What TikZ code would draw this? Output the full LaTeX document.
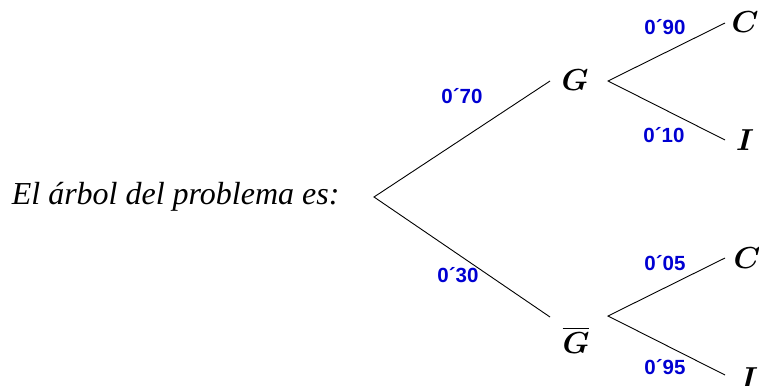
\documentclass[tikz,border=0pt]{standalone}
\usepackage{amsmath,amssymb,bm}
\usepackage{fontspec}
\setmainfont{Liberation Serif}
\setsansfont{Liberation Sans}
\usepackage{xcolor}
\usetikzlibrary{positioning}
\definecolor{probblue}{RGB}{0,0,210}
\tikzset{
  prob/.style={font=\sffamily\bfseries\fontsize{20.5}{22}\selectfont, text=probblue, inner sep=1pt},
  event/.style={font=\Huge, scale=1.22, inner sep=1pt},
  branch/.style={draw=black, line width=0.9pt},
}
\begin{document}
\begin{tikzpicture}[x=1pt,y=-1pt]
  \useasboundingbox (0,0) rectangle (759,385);
  % caption
  \node[font=\itshape\fontsize{32}{34}\selectfont, anchor=east] (cap) at (343,197) {El árbol del problema es:};
  % tree vertices
  \coordinate (root) at (374,197);
  \node[event] (g) at (575,80) {$\bm{G}$};
  \node[event] (gn) at (576,340) {$\overline{\bm{G}}$};
  \coordinate (gin) at (550,81);
  \coordinate (gout) at (608,81);
  \coordinate (gnin) at (550,317);
  \coordinate (gnout) at (608,316);
  \coordinate (c1in) at (725,23);
  \coordinate (i1in) at (725,140);
  \coordinate (c2in) at (725,258);
  \coordinate (i2in) at (725,375);
  \node[event] (c1) at (745,22) {$\bm{C}$};
  \node[event] (i1) at (745,140) {$\bm{I}$};
  \node[event] (c2) at (747,258) {$\bm{C}$};
  \node[event] (i2) at (749,378) {$\bm{I}$};
  % branches
  \draw[branch] (gin) -- (root) -- (gnin);
  \draw[branch] (c1in) -- (gout) -- (i1in);
  \draw[branch] (c2in) -- (gnout) -- (i2in);
  % probabilities
  \node[prob] (p70) at (462,96) {0´70};
  \node[prob] (p30) at (458,275) {0´30};
  \node[prob] (p90) at (665,27) {0´90};
  \node[prob] (p10) at (664,135) {0´10};
  \node[prob] (p05) at (665,263) {0´05};
  \node[prob] (p95) at (665,367) {0´95};
\end{tikzpicture}
\end{document}
